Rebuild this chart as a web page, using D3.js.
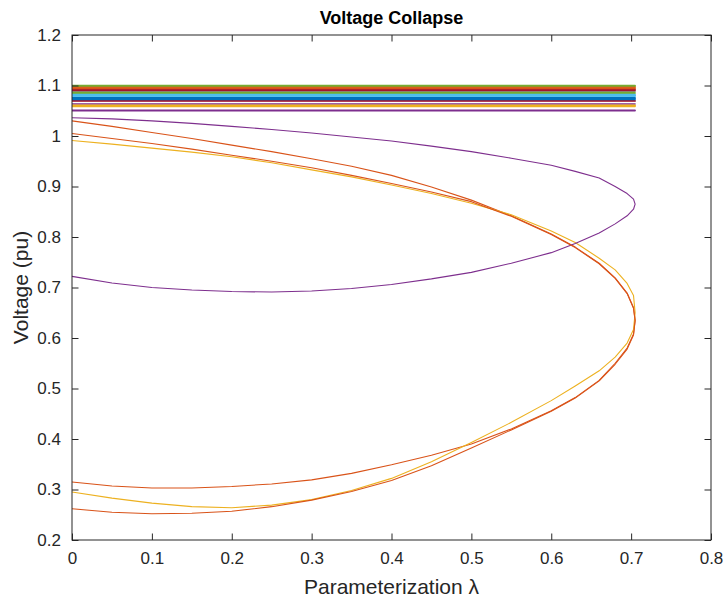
<!DOCTYPE html>
<html><head><meta charset="utf-8">
<script src="https://cdn.jsdelivr.net/npm/d3@7"></script>
<style>body{margin:0;background:#fff;} text{font-family:"Liberation Sans",Arial,sans-serif;}</style>
</head><body><svg id="c" width="726" height="602"></svg>
<script>
// continuation parameter (shared by all buses)
const lambda = [0,0.05,0.1,0.15,0.2,0.25,0.3,0.35,0.4,0.45,0.5,0.55,0.6,0.63,0.66,0.68,0.695,0.703,0.705,
                0.703,0.695,0.68,0.66,0.63,0.6,0.55,0.5,0.45,0.4,0.35,0.3,0.25,0.2,0.15,0.1,0.05,0];
const vBusA = [1.030,1.019,1.007,0.995,0.982,0.969,0.955,0.940,0.922,0.899,0.873,0.842,0.806,0.780,0.748,0.719,0.689,0.660,0.636,
               0.608,0.580,0.550,0.516,0.482,0.456,0.420,0.390,0.368,0.349,0.332,0.319,0.311,0.306,0.303,0.303,0.307,0.315];
const vBusB = [1.005,0.995,0.985,0.974,0.962,0.950,0.937,0.922,0.906,0.889,0.870,0.841,0.805,0.779,0.747,0.718,0.688,0.659,0.634,
               0.606,0.578,0.548,0.515,0.481,0.455,0.418,0.382,0.347,0.318,0.296,0.279,0.266,0.257,0.253,0.252,0.255,0.262];
const vBusY = [0.991,0.984,0.976,0.968,0.959,0.947,0.933,0.919,0.903,0.886,0.867,0.844,0.812,0.789,0.758,0.735,0.708,0.684,0.650,
               0.617,0.590,0.562,0.535,0.505,0.476,0.433,0.393,0.355,0.322,0.298,0.280,0.269,0.264,0.266,0.273,0.283,0.295];
const vBusP = [1.036,1.034,1.030,1.025,1.019,1.013,1.006,0.998,0.990,0.980,0.969,0.956,0.942,0.930,0.917,0.900,0.886,0.875,0.865,
               0.855,0.842,0.826,0.808,0.787,0.769,0.748,0.730,0.717,0.706,0.698,0.693,0.691,0.692,0.695,0.700,0.709,0.722];
// bus voltages in bus order: arrays for load buses, constants for regulated buses
const busVoltages = [1.0735, vBusA, vBusY, vBusP, 1.1000, 1.0775, 1.0690, 1.0810, vBusB, 1.0960,
                     1.0890, 1.0845, 1.0790, 1.0920, 1.0760, 1.0975, 1.0585, 1.0635, 1.0865, 1.0800,
                     1.0700, 1.0720, 1.0935, 1.0610, 1.0500, 1.0990, 1.0825, 1.0905, 1.0745, 1.0950,
                     1.0600, 1.0512];
const xTicks = [0,0.1,0.2,0.3,0.4,0.5,0.6,0.7,0.8];
const yTicks = [0.2,0.3,0.4,0.5,0.6,0.7,0.8,0.9,1,1.1,1.2];
const palette = ["#0072BD","#D95319","#EDB120","#7E2F8E","#77AC30","#4DBEEE","#A2142F"];

const svg = d3.select("#c");
const L = 72, R = 711, T = 35, B = 540;
const x = d3.scaleLinear().domain([0,0.8]).range([L,R]);
const y = d3.scaleLinear().domain([0.2,1.2]).range([B,T]);
const ax = "#262626";

const line = d3.line().x(d=>x(d[0])).y(d=>y(d[1]));
busVoltages.forEach((v,i)=>{
  const pts = lambda.map((l,k)=>[l, Array.isArray(v) ? v[k] : v]);
  svg.append("path").attr("d", line(pts)).attr("fill","none")
    .attr("stroke", palette[i % palette.length])
    .attr("stroke-width", Array.isArray(v) ? 1.1 : 1.4)
    .attr("stroke-linejoin","round");
});

// axes (inward ticks, box)
const fmt = d => d3.format("")(+d.toFixed(1));
const gB = svg.append("g").attr("transform",`translate(0,${B})`)
  .call(d3.axisBottom(x).tickValues(xTicks).tickSize(-6.5).tickPadding(12).tickFormat(d=>fmt(d)));
const gT = svg.append("g").attr("transform",`translate(0,${T})`)
  .call(d3.axisTop(x).tickValues(xTicks).tickSize(-6.5).tickFormat(""));
const gL = svg.append("g").attr("transform",`translate(${L},0)`)
  .call(d3.axisLeft(y).tickValues(yTicks).tickSize(-6.5).tickPadding(11).tickFormat(d=>fmt(d)));
const gR = svg.append("g").attr("transform",`translate(${R},0)`)
  .call(d3.axisRight(y).tickValues(yTicks).tickSize(-6.5).tickFormat(""));
[gB,gT,gL,gR].forEach(g=>{
  g.selectAll(".tick line").attr("stroke",ax).attr("stroke-width",1);
  g.selectAll(".tick text").attr("fill",ax).attr("font-size",17).attr("font-family","Liberation Sans, Arial, sans-serif");
});
svg.selectAll(".domain").remove();
svg.append("rect").attr("x",L).attr("y",T).attr("width",R-L).attr("height",B-T)
  .attr("fill","none").attr("stroke",ax).attr("stroke-width",1);

svg.append("text").attr("x",(L+R)/2).attr("y",24).attr("text-anchor","middle")
  .attr("font-size",18).attr("font-weight","bold").attr("fill","#000").text("Voltage Collapse");
svg.append("text").attr("x",(L+R)/2).attr("y",594).attr("text-anchor","middle")
  .attr("font-size",21).attr("fill",ax).text("Parameterization λ");
svg.append("text").attr("transform",`translate(28,${(T+B)/2}) rotate(-90)`).attr("text-anchor","middle")
  .attr("font-size",21).attr("fill",ax).text("Voltage (pu)");
</script></body></html>
